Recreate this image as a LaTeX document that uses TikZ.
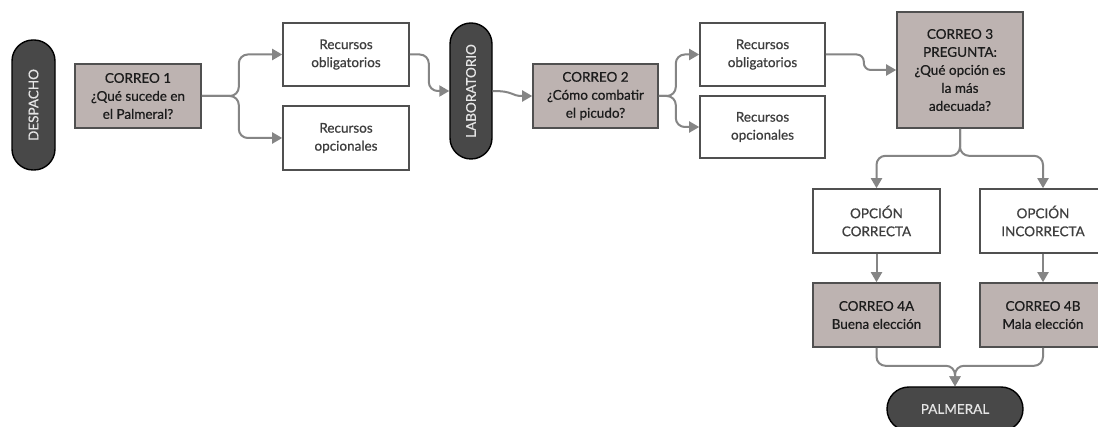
\documentclass[tikz,border=0pt]{standalone}
\usepackage{fontspec}
\setmainfont{Lato}
\newfontfamily\boxfont{Lato}[FakeBold=0.6]
\usetikzlibrary{arrows.meta}
\definecolor{boxline}{HTML}{505050}
\definecolor{mailfill}{HTML}{BDB3B1}
\definecolor{pillfill}{HTML}{484848}
\definecolor{linkgray}{HTML}{858585}
\definecolor{softtext}{HTML}{3E3E3E}
\definecolor{darktext}{HTML}{1C1C1C}
\tikzset{
  base/.style={draw=boxline, line width=1.6pt, align=center, inner sep=2pt,
    font=\boxfont\fontsize{13.5}{18}\selectfont},
  mailbox/.style={base, fill=mailfill, text=darktext},
  resbox/.style={base, fill=white, text=softtext},
  pill/.style={draw=black, line width=1.4pt, fill=pillfill, text=white!90!black,
    rounded corners=21pt, font=\boxfont\fontsize{13.5}{16}\selectfont},
  link/.style={draw=linkgray, line width=2pt, rounded corners=9pt,
    -{Triangle[length=10pt,width=11pt]}}
}
\begin{document}
\begin{tikzpicture}[x=1pt,y=-1pt]
\useasboundingbox (0,0) rectangle (1098,427);
\fill[white] (0,0) rectangle (1098,427);

% first stage
\node[pill, rotate=90, minimum width=130pt, minimum height=43pt] (desp) at (33.5,105) {DESPACHO};
\node[mailbox, minimum width=126pt, minimum height=64pt] (c1) at (138,96) {CORREO 1\\¿Qué sucede en\\el Palmeral?};
\node[resbox, minimum width=126pt, minimum height=63pt] (ro1) at (346,54.5) {Recursos\\obligatorios};
\node[resbox, minimum width=126pt, minimum height=64pt] (rp1) at (346,138) {Recursos\\opcionales};

% second stage
\node[pill, rotate=90, minimum width=136pt, minimum height=42pt] (lab) at (471,91) {LABORATORIO};
\node[mailbox, minimum width=125pt, minimum height=64pt] (c2) at (595.5,96) {CORREO 2\\¿Cómo combatir\\el picudo?};
\node[resbox, minimum width=125pt, minimum height=63pt] (ro2) at (762.5,54.5) {Recursos\\obligatorios};
\node[resbox, minimum width=125pt, minimum height=62pt] (rp2) at (762.5,127) {Recursos\\opcionales};

% question and outcomes
\node[mailbox, minimum width=126pt, minimum height=116pt] (c3) at (960,70) {CORREO 3\\PREGUNTA:\\¿Qué opción es\\la más\\adecuada?};
\node[resbox, minimum width=127pt, minimum height=64pt] (oc) at (876.5,221) {OPCIÓN\\CORRECTA};
\node[resbox, minimum width=126pt, minimum height=64pt] (oi) at (1043,221) {OPCIÓN\\INCORRECTA};
\node[mailbox, minimum width=127pt, minimum height=64pt] (c4a) at (876.5,315) {CORREO 4A\\Buena elección};
\node[mailbox, minimum width=126pt, minimum height=64pt] (c4b) at (1043,315) {CORREO 4B\\Mala elección};
\node[pill, minimum width=136pt, minimum height=44pt, rounded corners=22pt] (palm) at (955,409) {PALMERAL};

% connectors
\draw[link] (c1.east) -- ++(37,0) |- (rp1.west);
\draw[link] (c1.east) -- ++(37,0) |- (ro1.west);
\draw[link] (ro1.east) -- ++(19,0) |- (lab.north);
\draw[link, rounded corners=0pt] (lab.south) .. controls +(22,0) and +(-22,0) .. (c2.west);
\draw[link] (c2.east) -- ++(17,0) |- (rp2.west);
\draw[link] (c2.east) -- ++(17,0) |- (ro2.west);
\draw[link, rounded corners=7pt] (ro2.east) -- ++(38,0) |- (c3.west);
\draw[link] (c3.south) -- ++(0,27) -| (oc.north);
\draw[link] (c3.south) -- ++(0,27) -| (oi.north);
\draw[link] (oc) -- (c4a);
\draw[link] (oi) -- (c4b);
\draw[link] (c4a.south) -- ++(0,18) -| (palm.north);
\draw[link] (c4b.south) -- ++(0,18) -| (palm.north);
\end{tikzpicture}
\end{document}
